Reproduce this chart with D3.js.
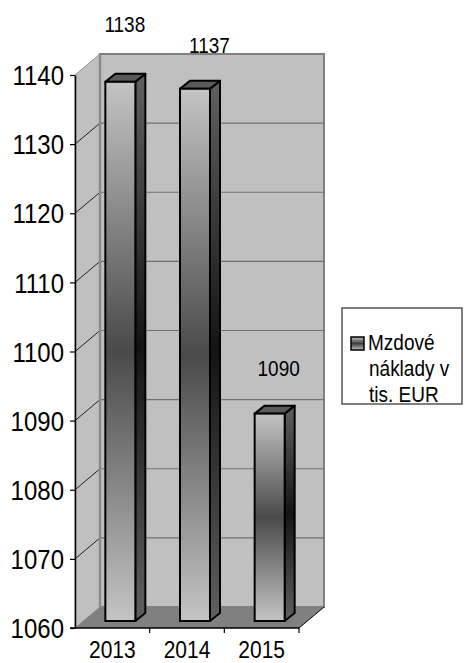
<!DOCTYPE html>
<html>
<head>
<meta charset="utf-8">
<script src="https://cdn.jsdelivr.net/npm/d3@7"></script>
<style>
	body { margin: 0; background: #fff; }
	svg { display: block; }
	text { font-family: "Liberation Sans", Arial, sans-serif; fill: #000; }
</style>
</head>
<body>
<svg id="chart" width="464" height="663"></svg>
<script>
(function () {

	// data
	var years = ["2013", "2014", "2015"]
	var wages = [1138, 1137, 1090]
	var yTicks = [1060, 1070, 1080, 1090, 1100, 1110, 1120, 1130, 1140]
	var legendLines = ["Mzdové", "náklady v", "tis. EUR"]

	var svg = d3.select("#chart"),
		plot = { left: 75, right: 299, top: 75, bottom: 628 },
		depth = { x: 25, y: -21 },       // wall depth
		barShift = { x: 8, y: -7 },      // bar front plane behind the axis
		barDepth = { x: 10, y: -8 },
		barW = 30,
		stretch = 1.15;                  // text in the picture is taller than wide

	// label nudges, excel put them oddly
	var labelDx = [4.5, 14.5, 9],
		labelDy = [50, 36, 38];

	var x = d3.scaleBand().domain(years).range([plot.left, plot.right]).padding(0);
	var y = d3.scaleLinear().domain([1060, 1140]).range([plot.bottom, plot.top]);

	var defs = svg.append("defs");

	function grad(id, ends, mid) {
		var g = defs.append("linearGradient").attr("id", id)
			.attr("x1", 0).attr("y1", 0).attr("x2", 0).attr("y2", 1);
		g.append("stop").attr("offset", "0%").attr("stop-color", ends);
		g.append("stop").attr("offset", "50%").attr("stop-color", mid);
		g.append("stop").attr("offset", "100%").attr("stop-color", ends);
	}
	grad("front", "#c4c4c4", "#4a4a4a");
	grad("side", "#606060", "#141414");
	grad("swatch", "#c0c0c0", "#404040");

	var bx0 = plot.left + depth.x, bx1 = plot.right + depth.x,
		by0 = plot.top + depth.y, by1 = plot.bottom + depth.y;

	// back wall
	svg.append("rect")
		.attr("x", bx0).attr("y", by0)
		.attr("width", bx1 - bx0).attr("height", by1 - by0)
		.style("fill", "#c0c0c0").style("stroke", "#808080").style("stroke-width", 2);

	// left wall
	svg.append("polygon")
		.attr("points", [[plot.left, plot.top], [bx0, by0], [bx0, by1], [plot.left, plot.bottom]].join(" "))
		.style("fill", "#c0c0c0").style("stroke", "#909090").style("stroke-width", 1);

	// floor
	svg.append("polygon")
		.attr("points", [[plot.left, plot.bottom], [plot.right, plot.bottom], [bx1, by1], [bx0, by1]].join(" "))
		.style("fill", "#808080");
	svg.append("line")
		.attr("x1", plot.right).attr("y1", plot.bottom).attr("x2", bx1).attr("y2", by1)
		.style("stroke", "#000").style("stroke-width", 1);

	// gridlines, back wall + diagonals on the side wall
	var inner = yTicks.filter(function (t) { return t > 1060 && t < 1140 });
	svg.selectAll(".grid")
		.data(inner)
		.enter()
		.append("line")
		.attr("class", "grid")
		.attr("x1", bx0).attr("x2", bx1)
		.attr("y1", function (d) { return y(d) + depth.y })
		.attr("y2", function (d) { return y(d) + depth.y })
		.style("stroke", "#707070").style("stroke-width", 1.2);
	svg.selectAll(".diag")
		.data(inner)
		.enter()
		.append("line")
		.attr("class", "diag")
		.attr("x1", plot.left).attr("x2", bx0)
		.attr("y1", function (d) { return y(d) })
		.attr("y2", function (d) { return y(d) + depth.y })
		.style("stroke", "#202020").style("stroke-width", 1);
	svg.append("line")
		.attr("x1", bx0).attr("x2", bx0).attr("y1", by0).attr("y2", by1)
		.style("stroke", "#8a8a8a").style("stroke-width", 2.5);

	// bars
	var bars = svg.selectAll(".bar")
		.data(wages)
		.enter()
		.append("g")
		.attr("class", "bar");

	function fx(d, i) { return x(years[i]) + (x.bandwidth() - barW) / 2 + barShift.x }
	function fy(d) { return y(d) + barShift.y }
	var base = y(1060) + barShift.y;

	bars.append("polygon")
		.attr("points", function (d, i) {
			var x0 = fx(d, i) + barW, t = fy(d);
			return [[x0, t], [x0 + barDepth.x, t + barDepth.y], [x0 + barDepth.x, base + barDepth.y], [x0, base]].join(" ")
		})
		.style("fill", "url(#side)").style("stroke", "#000").style("stroke-width", 2).style("stroke-linejoin", "round");

	bars.append("polygon")
		.attr("points", function (d, i) {
			var x0 = fx(d, i), t = fy(d);
			return [[x0, t], [x0 + barDepth.x, t + barDepth.y], [x0 + barW + barDepth.x, t + barDepth.y], [x0 + barW, t]].join(" ")
		})
		.style("fill", "#5a5a5a").style("stroke", "#000").style("stroke-width", 2).style("stroke-linejoin", "round");

	bars.append("rect")
		.attr("x", fx)
		.attr("y", fy)
		.attr("width", barW)
		.attr("height", function (d) { return base - fy(d) })
		.style("fill", "url(#front)").style("stroke", "#000").style("stroke-width", 2);

	// value labels
	svg.selectAll(".label")
		.data(wages)
		.enter()
		.append("text")
		.attr("class", "label")
		.text(function (d) { return d })
		.attr("text-anchor", "middle")
		.attr("transform", function (d, i) {
			return "translate(" + (fx(d, i) + barW / 2 + labelDx[i]) + "," + (fy(d) - labelDy[i]) + ") scale(1," + stretch + ")"
		})
		.style("font-size", "19px");

	// y axis
	var ya = svg.append("g")
		.attr("transform", "translate(" + plot.left + ",0)")
		.call(d3.axisLeft(y).tickValues(yTicks).tickSize(5).tickSizeOuter(0).tickPadding(6).tickFormat(d3.format("d")));
	ya.select(".domain").style("stroke", "#000").style("stroke-width", 1.5);
	ya.selectAll(".tick line").style("stroke", "#000").style("stroke-width", 1.2);
	ya.selectAll(".tick text")
		.attr("dy", "0.35em")
		.attr("transform", "scale(1," + stretch + ")")
		.style("font-size", "24px").style("font-family", "'Liberation Sans', Arial, sans-serif");

	// x axis: ticks on category borders, labels in the middle
	svg.append("line")
		.attr("x1", plot.left - 5).attr("x2", plot.right)
		.attr("y1", plot.bottom).attr("y2", plot.bottom)
		.style("stroke", "#000").style("stroke-width", 1.5);
	svg.selectAll(".xtick")
		.data(years)
		.enter()
		.append("line")
		.attr("class", "xtick")
		.attr("x1", function (d) { return x(d) + x.bandwidth() })
		.attr("x2", function (d) { return x(d) + x.bandwidth() })
		.attr("y1", plot.bottom).attr("y2", plot.bottom + 5)
		.style("stroke", "#000").style("stroke-width", 1.2);
	svg.selectAll(".xlab")
		.data(years)
		.enter()
		.append("text")
		.attr("class", "xlab")
		.text(function (d) { return d })
		.attr("text-anchor", "middle")
		.attr("transform", function (d) {
			return "translate(" + (x(d) + x.bandwidth() / 2) + "," + (plot.bottom + 30) + ") scale(1," + stretch + ")"
		})
		.style("font-size", "21px");

	// legend
	var lg = svg.append("g").attr("transform", "translate(342,308)");
	lg.append("rect")
		.attr("width", 120).attr("height", 96)
		.style("fill", "#fff").style("stroke", "#000").style("stroke-width", 1);
	lg.append("rect")
		.attr("x", 9).attr("y", 29).attr("width", 13).attr("height", 13)
		.style("fill", "url(#swatch)").style("stroke", "#000").style("stroke-width", 1.5);
	lg.selectAll(".lgtext")
		.data(legendLines)
		.enter()
		.append("text")
		.attr("class", "lgtext")
		.text(function (d) { return d })
		.attr("transform", function (d, i) {
			return "translate(" + (i == 0 ? 26 : 27) + "," + (42 + i * 26) + ") scale(1," + stretch + ")"
		})
		.style("font-size", "19px");

})();
</script>
</body>
</html>
